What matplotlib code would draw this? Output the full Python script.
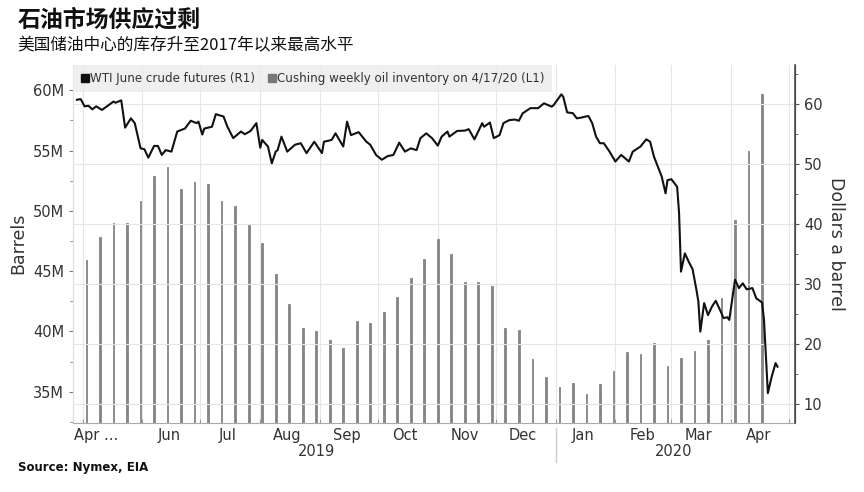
import matplotlib
matplotlib.use("Agg")
import matplotlib.pyplot as plt
import matplotlib.dates as mdates
import matplotlib.transforms as mtransforms
from matplotlib.lines import Line2D
from matplotlib.ticker import FuncFormatter, MultipleLocator, FixedLocator
import pandas as pd

# Cushing weekly inventory (million barrels), weeks ending Fridays
inv_dates = pd.date_range("2019-05-03", "2020-04-17", freq="7D")
inv_mbbl = [45.9, 47.8, 49.0, 49.0, 50.8, 52.9, 53.6, 51.8, 52.4, 52.2,
            50.8, 50.4, 48.8, 47.3, 44.8, 42.3, 40.3, 40.0, 39.25, 38.6,
            40.9, 40.7, 41.6, 42.85, 44.4, 46.0, 47.7, 46.4, 44.1, 44.1,
            43.75, 40.3, 40.1, 37.7, 36.25, 35.4, 35.75, 34.8, 35.6, 36.7,
            38.3, 38.1, 39.05, 37.1, 37.8, 38.4, 39.25, 42.75, 49.2, 55.0,
            59.7]

# WTI June crude futures ($/bbl)
wti_dates = [
    "2019-04-28", "2019-04-30", "2019-05-02", "2019-05-04", "2019-05-06",
    "2019-05-08", "2019-05-11", "2019-05-17", "2019-05-18", "2019-05-21",
    "2019-05-23", "2019-05-26", "2019-05-28", "2019-05-31", "2019-06-02",
    "2019-06-04", "2019-06-07", "2019-06-09", "2019-06-11", "2019-06-13",
    "2019-06-16", "2019-06-19", "2019-06-23", "2019-06-26", "2019-06-29",
    "2019-06-30", "2019-07-02", "2019-07-03", "2019-07-07", "2019-07-09",
    "2019-07-13", "2019-07-15", "2019-07-18", "2019-07-22", "2019-07-24",
    "2019-07-27", "2019-07-30", "2019-08-01", "2019-08-02", "2019-08-05",
    "2019-08-07", "2019-08-09", "2019-08-10", "2019-08-12", "2019-08-15",
    "2019-08-19", "2019-08-22", "2019-08-25", "2019-08-29", "2019-09-02",
    "2019-09-03", "2019-09-07", "2019-09-09", "2019-09-13", "2019-09-15",
    "2019-09-17", "2019-09-21", "2019-09-25", "2019-09-27", "2019-09-30",
    "2019-10-03", "2019-10-06", "2019-10-09", "2019-10-12", "2019-10-15",
    "2019-10-18", "2019-10-21", "2019-10-23", "2019-10-26", "2019-10-29",
    "2019-11-01", "2019-11-03", "2019-11-06", "2019-11-07", "2019-11-11",
    "2019-11-15", "2019-11-17", "2019-11-20", "2019-11-24", "2019-11-25",
    "2019-11-28", "2019-11-30", "2019-12-03", "2019-12-05", "2019-12-08",
    "2019-12-11", "2019-12-13", "2019-12-15", "2019-12-19", "2019-12-23",
    "2019-12-26", "2019-12-30", "2019-12-31", "2020-01-04", "2020-01-05",
    "2020-01-07", "2020-01-10", "2020-01-12", "2020-01-14", "2020-01-18",
    "2020-01-20", "2020-01-22", "2020-01-24", "2020-01-26", "2020-01-29",
    "2020-02-01", "2020-02-04", "2020-02-08", "2020-02-10", "2020-02-14",
    "2020-02-17", "2020-02-19", "2020-02-21", "2020-02-25", "2020-02-27",
    "2020-02-28", "2020-03-01", "2020-03-04", "2020-03-05", "2020-03-06",
    "2020-03-08", "2020-03-10", "2020-03-12", "2020-03-14", "2020-03-15",
    "2020-03-16", "2020-03-18", "2020-03-20", "2020-03-22", "2020-03-24",
    "2020-03-27", "2020-03-28", "2020-03-30", "2020-03-31", "2020-04-03",
    "2020-04-05", "2020-04-07", "2020-04-09", "2020-04-12", "2020-04-14",
    "2020-04-17", "2020-04-18", "2020-04-20", "2020-04-22", "2020-04-24",
    "2020-04-25",
]
wti_price = [
    60.7, 60.8, 59.6, 59.7, 59.1, 59.6, 59.0, 60.4, 60.2, 60.6,
    56.05, 57.6, 56.8, 52.6, 52.45, 51.05, 53.0, 53.0, 51.5, 52.3,
    52.05, 55.4, 55.9, 57.2, 56.8, 57.05, 54.9, 55.9, 56.2, 58.3,
    57.9, 56.2, 54.3, 55.4, 54.95, 55.5, 56.8, 52.7, 54.0, 52.9,
    50.1, 52.05, 52.3, 54.55, 52.05, 53.2, 53.45, 51.8, 53.7, 51.8,
    53.7, 54.0, 55.1, 52.9, 57.05, 54.8, 55.3, 53.7, 53.2, 51.5,
    50.7, 51.3, 51.5, 53.55, 52.05, 52.6, 52.3, 54.3, 55.1, 54.3,
    53.05, 54.55, 55.4, 54.55, 55.5, 55.55, 55.8, 54.1, 56.8, 56.2,
    56.9, 54.3, 54.8, 56.8, 57.3, 57.4, 57.2, 58.45, 59.3, 59.3,
    60.1, 59.55, 59.8, 61.6, 61.2, 58.6, 58.45, 57.6, 57.7, 58.0,
    56.8, 54.55, 53.45, 53.45, 52.05, 50.4, 51.5, 50.4, 52.05, 52.9,
    54.1, 53.7, 51.2, 47.9, 45.1, 47.3, 47.45, 46.2, 41.8, 32.05,
    35.1, 33.7, 32.45, 29.0, 27.05, 22.05, 26.8, 24.8, 26.2, 27.2,
    25.1, 24.3, 24.45, 24.0, 30.7, 29.3, 30.1, 29.1, 29.3, 27.6,
    26.9, 24.0, 11.8, 14.55, 16.8, 16.2,
]

month_label_dates = ["2019-05-08", "2019-06-15", "2019-07-15", "2019-08-15",
                     "2019-09-15", "2019-10-15", "2019-11-15", "2019-12-15",
                     "2020-01-15", "2020-02-15", "2020-03-15", "2020-04-15"]
month_labels = ["Apr ...", "Jun", "Jul", "Aug", "Sep", "Oct", "Nov", "Dec",
                "Jan", "Feb", "Mar", "Apr"]
year_labels = {"2019": "2019-08-30", "2020": "2020-03-02"}
year_break = "2020-01-01"

CJK = ["Noto Sans CJK SC", "DejaVu Sans"]
TXT = "#333333"

fig = plt.figure(figsize=(8.64, 4.92), dpi=100)
ax = fig.add_axes([0.0845, 0.141, 0.8355, 0.727])
ax2 = ax.twinx()

# inventory bars on the left axis
ax.bar(inv_dates, inv_mbbl, width=0.9, color="#858585",
       edgecolor="#858585", linewidth=0.6, zorder=2)
ax.set_ylim(32.43, 62.1)
ax.yaxis.set_major_locator(MultipleLocator(5))
ax.yaxis.set_minor_locator(MultipleLocator(2.5))
ax.yaxis.set_major_formatter(FuncFormatter(lambda v, p: f"{v:.0f}M"))
ax.set_ylabel("Barrels", fontsize=12.5, color=TXT, labelpad=4)

# WTI line on the right axis
ax2.plot(pd.to_datetime(wti_dates), wti_price, color="#111111",
         linewidth=1.5, zorder=3)
ax2.set_ylim(6.88, 66.5)
ax2.yaxis.set_major_locator(MultipleLocator(10))
ax2.yaxis.set_minor_locator(MultipleLocator(5))
ax2.set_ylabel("Dollars a barrel", fontsize=12.5, color=TXT,
               rotation=270, labelpad=16)

ax.set_xlim(pd.Timestamp("2019-04-26"), pd.Timestamp("2020-05-04"))
ax.xaxis.set_major_locator(mdates.MonthLocator())
ax.xaxis.set_major_formatter(plt.NullFormatter())
ax.xaxis.set_minor_locator(FixedLocator(mdates.date2num(pd.to_datetime(month_label_dates))))
ax.xaxis.set_minor_formatter(FuncFormatter(lambda v, p: month_labels[p] if p is not None and p < len(month_labels) else ""))
ax.tick_params(axis="x", which="major", direction="in", length=3,
               color="#999999")
ax.tick_params(axis="x", which="minor", length=0, labelsize=10.5,
               labelcolor=TXT, pad=4)
ax.tick_params(axis="y", which="both", labelsize=10.5, labelcolor=TXT,
               color="#777777", length=3)
ax.tick_params(axis="y", which="minor", length=2)
ax2.tick_params(axis="y", which="both", labelsize=10.5, labelcolor=TXT,
                color="#555555", length=3)
ax2.tick_params(axis="y", which="minor", length=2)

# grid: month starts vertical, right-axis ticks horizontal
ax.grid(axis="x", which="major", color="#e6e6e6", linewidth=0.8, zorder=0)
ax.set_axisbelow(True)
ax2.grid(axis="y", which="major", color="#e6e6e6", linewidth=0.8)

for a in (ax, ax2):
    a.spines["top"].set_visible(False)
ax.spines["left"].set_color("#dddddd")
ax.spines["bottom"].set_color("#aaaaaa")
ax2.spines["left"].set_visible(False)
ax2.spines["bottom"].set_visible(False)
ax2.spines["right"].set_color("#555555")
ax2.spines["right"].set_linewidth(1.2)

# legend strip
handles = [
    Line2D([], [], marker="s", linestyle="none", color="#111111", markersize=6),
    Line2D([], [], marker="s", linestyle="none", color="#777777", markersize=6),
]
leg = ax2.legend(handles, ["WTI June crude futures (R1)",
                           "Cushing weekly oil inventory on 4/17/20 (L1)"],
                 loc="upper left", bbox_to_anchor=(0.0, 1.0), ncol=2,
                 fontsize=8.6, frameon=True, fancybox=False, borderaxespad=0,
                 handletextpad=0.05, columnspacing=1.0, handlelength=0.8,
                 borderpad=0.6)
leg.get_frame().set_facecolor("#ececec")
leg.get_frame().set_edgecolor("none")
for t in leg.get_texts():
    t.set_color(TXT)

# year labels and separator under the month labels
trans = mtransforms.blended_transform_factory(ax.transData, fig.transFigure)
for label, d in year_labels.items():
    ax.text(pd.Timestamp(d), 1 - 452 / 492, label, transform=trans,
            ha="center", va="center", fontsize=10.5, color=TXT)
ax.add_line(Line2D([pd.Timestamp(year_break)] * 2,
                   [1 - 428 / 492, 1 - 462 / 492], transform=trans,
                   color="#cccccc", linewidth=1, clip_on=False))

fig.text(0.02, 1 - 20 / 492, "石油市场供应过剩", family=CJK, fontsize=16.5,
         fontweight="bold", va="center", color="#111111")
fig.text(0.02, 1 - 46 / 492, "美国储油中心的库存升至2017年以来最高水平",
         family=CJK, fontsize=12, va="center", color="#111111")
fig.text(0.021, 1 - 467 / 492, "Source: Nymex, EIA", fontsize=8.5,
         fontweight="bold", va="center", color="#111111")

fig.savefig("out.png", dpi=100)
